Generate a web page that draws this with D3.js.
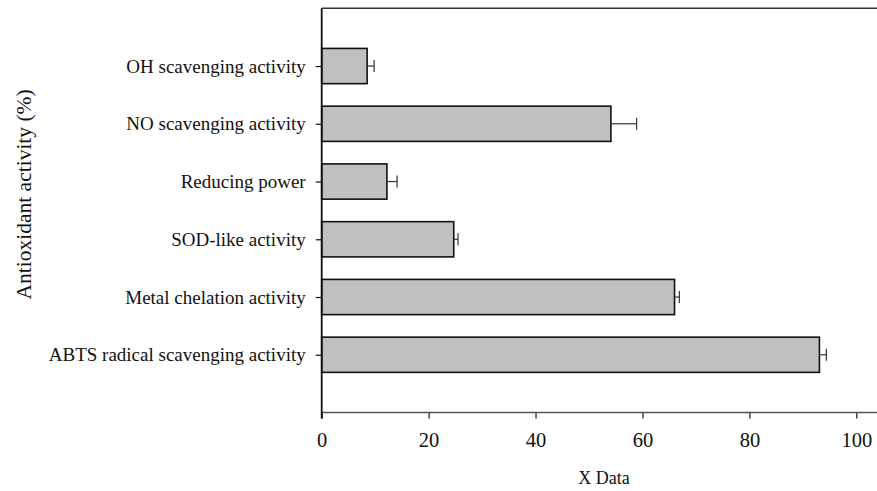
<!DOCTYPE html>
<html>
<head>
<meta charset="utf-8">
<script src="https://cdn.jsdelivr.net/npm/d3@7"></script>
<style>
  html, body { margin: 0; padding: 0; background: #fff; }
  svg { display: block; }
  text { font-family: "Liberation Serif", "Times New Roman", serif; fill: #111; }
</style>
</head>
<body>
<svg id="chart" width="877" height="491"></svg>
<script>
// Antioxidant assays, listed top to bottom
const categories = [
  "OH scavenging activity",
  "NO scavenging activity",
  "Reducing power",
  "SOD-like activity",
  "Metal chelation activity",
  "ABTS radical scavenging activity"
];
const values = [8.5, 54.1, 12.2, 24.7, 66.0, 93.1];
const errors = [1.3, 4.8, 1.9, 0.8, 0.9, 1.3];
const xTicks = [0, 20, 40, 60, 80, 100];

const W = 877, H = 491;
const plotLeft = 321.7, plotTop = 8.3, plotBottom = 412.5;

const svg = d3.select("#chart");

// x: percentage, frame runs a little past 100
const x = d3.scaleLinear().domain([0, 104]).range([plotLeft, plotLeft + 104 * 5.346]);
// y: slot positions 0..7, categories occupy 1..6 counting from the bottom
const y = d3.scaleLinear().domain([0, 7]).range([plotBottom, plotTop]);
const slot = (y(0) - y(1));
const barH = slot * 0.61;

const rows = categories.map((c, i) => ({
  name: c, value: values[i], err: errors[i], pos: categories.length - i
}));

// frame: top line
svg.append("line")
  .attr("x1", plotLeft).attr("x2", W).attr("y1", plotTop).attr("y2", plotTop)
  .attr("stroke", "#333").attr("stroke-width", 1.5);

// bars
svg.append("g").selectAll("rect").data(rows).join("rect")
  .attr("x", x(0))
  .attr("y", d => y(d.pos) - barH / 2)
  .attr("width", d => x(d.value) - x(0))
  .attr("height", barH)
  .attr("fill", "#c0c0c0")
  .attr("stroke", "#111")
  .attr("stroke-width", 1.6);

// error bars (positive side)
const eb = svg.append("g").attr("stroke", "#333").attr("stroke-width", 1.2);
eb.selectAll("line.stem").data(rows).join("line").attr("class", "stem")
  .attr("x1", d => x(d.value)).attr("x2", d => x(d.value + d.err))
  .attr("y1", d => y(d.pos)).attr("y2", d => y(d.pos));
eb.selectAll("line.cap").data(rows).join("line").attr("class", "cap")
  .attr("x1", d => x(d.value + d.err)).attr("x2", d => x(d.value + d.err))
  .attr("y1", d => y(d.pos) - 6).attr("y2", d => y(d.pos) + 6);

// bottom axis
const xAxis = d3.axisBottom(x).tickValues(xTicks).tickSize(6).tickSizeOuter(0).tickPadding(14);
const gx = svg.append("g").attr("transform", `translate(0,${plotBottom})`).call(xAxis);
gx.select(".domain").remove();
gx.append("line").attr("x1", plotLeft).attr("x2", W).attr("y1", 0).attr("y2", 0)
  .attr("stroke", "#555").attr("stroke-width", 1.6);
gx.selectAll(".tick line").attr("stroke", "#111").attr("stroke-width", 1.2);
gx.selectAll(".tick text")
  .style("font-family", '"Liberation Serif", "Times New Roman", serif')
  .style("font-size", "20.5px").attr("fill", "#111");

// left axis with category labels
const yAxis = d3.axisLeft(y).tickValues(rows.map(d => d.pos))
  .tickFormat(p => rows.find(r => r.pos === p).name)
  .tickSize(6).tickPadding(10).tickSizeOuter(0);
const gy = svg.append("g").attr("transform", `translate(${plotLeft},0)`).call(yAxis);
gy.select(".domain").remove();
gy.append("line").attr("x1", 0).attr("x2", 0).attr("y1", plotTop).attr("y2", plotBottom + 6)
  .attr("stroke", "#111").attr("stroke-width", 1.8);
gy.selectAll(".tick line").attr("stroke", "#111").attr("stroke-width", 1.2);
gy.selectAll(".tick text")
  .style("font-family", '"Liberation Serif", "Times New Roman", serif')
  .style("font-size", "19px").attr("fill", "#111");

// axis titles
svg.append("text")
  .attr("transform", `translate(31,${(plotTop + plotBottom) / 2 - 16}) rotate(-90)`)
  .attr("text-anchor", "middle")
  .style("font-size", "21.5px")
  .text("Antioxidant activity (%)");

svg.append("text")
  .attr("x", 604).attr("y", 484)
  .attr("text-anchor", "middle")
  .style("font-size", "18px")
  .text("X Data");
</script>
</body>
</html>
